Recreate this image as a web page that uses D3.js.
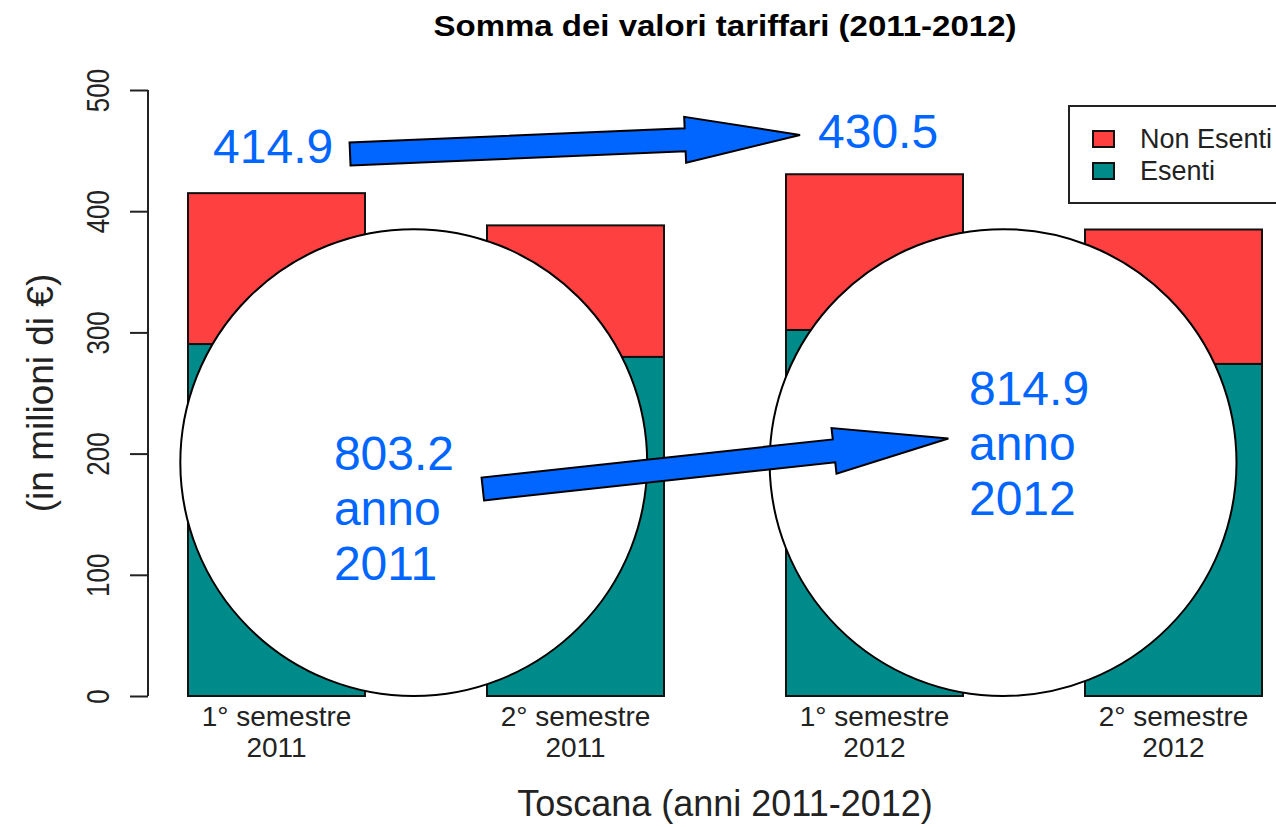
<!DOCTYPE html>
<html>
<head>
<meta charset="utf-8">
<script src="https://cdn.jsdelivr.net/npm/d3@7"></script>
<style>
  body { margin: 0; background: #fff; }
  svg { display: block; font-family: "Liberation Sans", Arial, sans-serif; }
</style>
</head>
<body>
<div id="chart"></div>
<script>
// --- Data ---
const categories = ["1° semestre 2011", "2° semestre 2011", "1° semestre 2012", "2° semestre 2012"];
const tickLines = [["1° semestre", "2011"], ["2° semestre", "2011"], ["1° semestre", "2012"], ["2° semestre", "2012"]];
const esenti = [290.4, 279.8, 302.0, 274.0];
const nonEsenti = [124.5, 108.5, 128.5, 110.9];
const yTicks = [0, 100, 200, 300, 400, 500];
const seriesKeys = ["esenti", "nonEsenti"];
const seriesNames = { nonEsenti: "Non Esenti", esenti: "Esenti" };
const seriesColors = { nonEsenti: "#FF4040", esenti: "#008B8B" };

// annotations (anchors in bar-slot / value units)
const semLabels = [
    { lines: ["414.9"], slot: -0.212, value: 439.8 },
    { lines: ["430.5"], slot: 1.811, value: 452.1 }
];
const yearLabels = [
    { lines: ["803.2", "anno", "2011"], slot: 0.192, value: 186.5 },
    { lines: ["814.9", "anno", "2012"], slot: 2.316, value: 240.1 }
];
const bubbles = [
    { slot: 0.459, value: 192.6, r: 192.6 },
    { slot: 2.43, value: 192.6, r: 192.6 }
];
const arrows = [
    { from: [0.246, 447.2], to: [1.751, 462.9] },
    { from: [0.690, 170.8], to: [2.247, 212.5] }
];

const width = 1276, height = 827;
const svg = d3.select("#chart").append("svg")
    .attr("width", width)
    .attr("height", height);

const x = d3.scaleBand()
    .domain(categories)
    .range([188, 1262])
    .paddingInner(0.408)
    .paddingOuter(0);

const y = d3.scaleLinear().domain([0, 500]).range([696, 90]);
const bw = x.bandwidth();

const slot = d3.scaleLinear()
    .domain([0, 1])
    .range([x(categories[0]) + bw / 2, x(categories[1]) + bw / 2]);
const pxPerUnit = y(0) - y(1);

// --- Bars ---
const rows = categories.map((c, i) => ({ cat: c, esenti: esenti[i], nonEsenti: nonEsenti[i] }));
const stacked = d3.stack().keys(seriesKeys)(rows);

svg.append("g").selectAll("g")
    .data(stacked)
    .join("g")
    .attr("fill", d => seriesColors[d.key])
    .selectAll("rect")
    .data(d => d)
    .join("rect")
    .attr("x", d => x(d.data.cat))
    .attr("y", d => y(d[1]))
    .attr("width", bw)
    .attr("height", d => y(d[0]) - y(d[1]))
    .attr("stroke", "#111")
    .attr("stroke-width", 2);

// --- Y axis ---
const yAxis = d3.axisLeft(y).tickValues(yTicks).tickSize(18).tickPadding(0).tickFormat(d3.format("d"));
const yg = svg.append("g").attr("transform", "translate(148,0)").call(yAxis);
yg.select(".domain").attr("d", `M0,${y(0)}V${y(500)}`).attr("stroke", "#222").attr("stroke-width", 2);
yg.selectAll(".tick line").attr("stroke", "#222").attr("stroke-width", 2);
yg.selectAll(".tick text")
    .attr("transform", "translate(-39,0) rotate(-90) scale(1,1.2)")
    .attr("x", 0).attr("y", 0).attr("dy", 0)
    .attr("text-anchor", "middle")
    .attr("font-size", 26)
    .attr("fill", "#222")
    .attr("font-family", "Liberation Sans, Arial, sans-serif");

// --- X tick labels ---
const xl = svg.append("g").selectAll("text")
    .data(categories)
    .join("text")
    .attr("text-anchor", "middle")
    .attr("font-size", 28)
    .attr("fill", "#222");
xl.each(function(c, i) {
    const t = d3.select(this);
    tickLines[i].forEach((line, j) => {
        t.append("tspan")
            .attr("x", x(c) + bw / 2)
            .attr("y", 726 + j * 31)
            .text(line);
    });
});

// --- Titles ---
const titleX = x(categories[0]) + (x(categories[3]) + bw - x(categories[0])) / 2;
svg.append("text")
    .attr("transform", `translate(${titleX},36) scale(1.1,1)`)
    .attr("text-anchor", "middle")
    .attr("font-size", 30)
    .attr("font-weight", "bold")
    .attr("fill", "#000")
    .text("Somma dei valori tariffari (2011-2012)");

svg.append("text")
    .attr("x", 725)
    .attr("y", 816)
    .attr("text-anchor", "middle")
    .attr("font-size", 36)
    .attr("fill", "#222")
    .text("Toscana (anni 2011-2012)");

svg.append("text")
    .attr("transform", `translate(53,${(y(0) + y(500)) / 2}) rotate(-90)`)
    .attr("text-anchor", "middle")
    .attr("font-size", 37)
    .attr("fill", "#222")
    .text("(in milioni di €)");

// --- Legend ---
const legend = svg.append("g").attr("transform", "translate(1069,106)");
legend.append("rect")
    .attr("width", 240).attr("height", 97)
    .attr("fill", "#fff").attr("stroke", "#222").attr("stroke-width", 2);
["nonEsenti", "esenti"].forEach((k, i) => {
    legend.append("rect")
        .attr("x", 24).attr("y", 25 + i * 32)
        .attr("width", 21).attr("height", 16)
        .attr("fill", seriesColors[k]).attr("stroke", "#111").attr("stroke-width", 2);
    legend.append("text")
        .attr("x", 71).attr("y", 42 + i * 32)
        .attr("font-size", 27).attr("fill", "#222")
        .text(seriesNames[k]);
});

// --- Annotation bubbles ---
svg.append("g").selectAll("circle")
    .data(bubbles)
    .join("circle")
    .attr("cx", d => slot(d.slot))
    .attr("cy", d => y(d.value))
    .attr("r", d => d.r * pxPerUnit)
    .attr("fill", "#fff")
    .attr("stroke", "#000")
    .attr("stroke-width", 2);

// --- Arrows ---
function arrowPath(a) {
    const p0 = [slot(a.from[0]), y(a.from[1])];
    const p1 = [slot(a.to[0]), y(a.to[1])];
    const dx = p1[0] - p0[0], dy = p1[1] - p0[1];
    const len = Math.hypot(dx, dy);
    const ux = dx / len, uy = dy / len;
    const nx = -uy, ny = ux;
    const sw = 11.5, hw = 23, hl = 115;
    const b = [p1[0] - ux * hl, p1[1] - uy * hl];
    const pts = [
        [p0[0] + nx * sw, p0[1] + ny * sw],
        [b[0] + nx * sw, b[1] + ny * sw],
        [b[0] + nx * hw, b[1] + ny * hw],
        p1,
        [b[0] - nx * hw, b[1] - ny * hw],
        [b[0] - nx * sw, b[1] - ny * sw],
        [p0[0] - nx * sw, p0[1] - ny * sw]
    ];
    return "M" + pts.map(p => p.join(",")).join("L") + "Z";
}

svg.append("g").selectAll("path")
    .data(arrows)
    .join("path")
    .attr("d", arrowPath)
    .attr("fill", "#0066FF")
    .attr("stroke", "#000")
    .attr("stroke-width", 2)
    .attr("stroke-linejoin", "miter");

// --- Annotation labels ---
svg.append("g").selectAll("text")
    .data(semLabels.concat(yearLabels))
    .join("text")
    .attr("font-size", 48)
    .attr("fill", "#0066FF")
    .each(function(d) {
        const t = d3.select(this);
        d.lines.forEach((line, j) => {
            t.append("tspan")
                .attr("x", slot(d.slot))
                .attr("y", y(d.value) + j * 55)
                .text(line);
        });
    });
</script>
</body>
</html>
